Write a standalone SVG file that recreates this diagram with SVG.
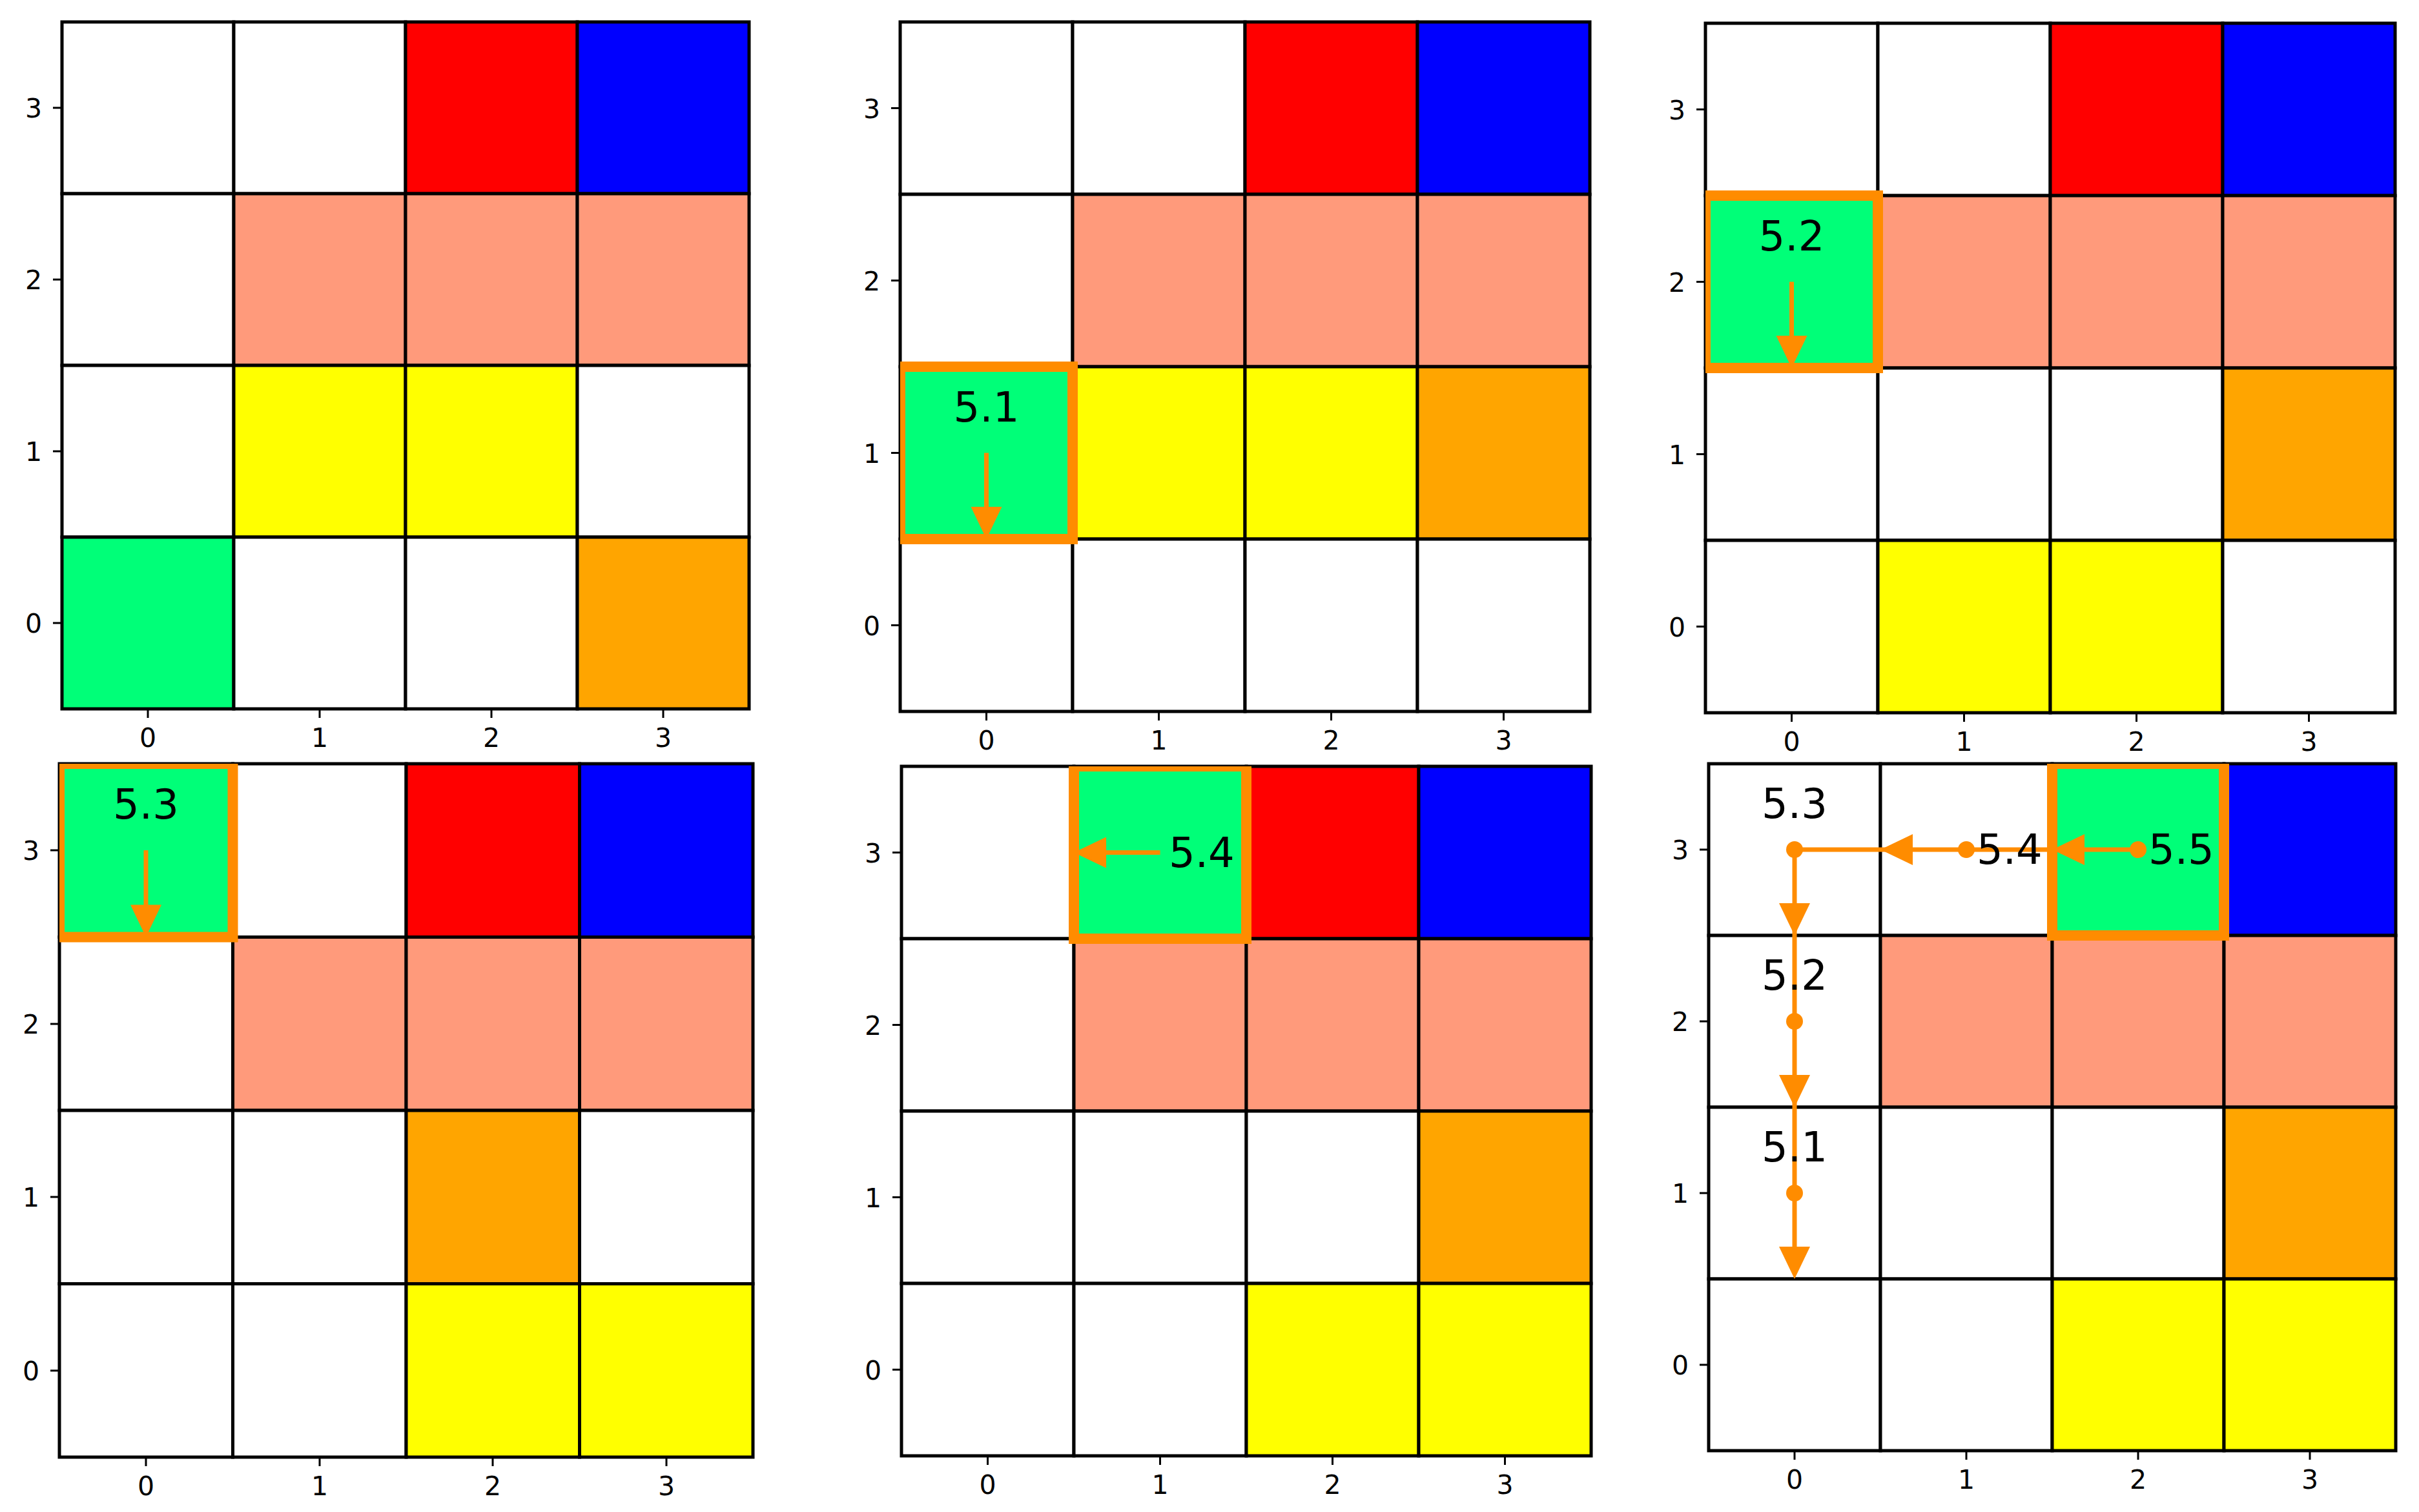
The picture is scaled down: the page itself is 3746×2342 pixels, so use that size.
<svg xmlns="http://www.w3.org/2000/svg" width="3746" height="2342" viewBox="0 0 3746 2342">
<style>
.c{stroke:#000;stroke-width:5}
.w{fill:#fff}.r{fill:#f00}.b{fill:#00f}.s{fill:#ff9a7b}.y{fill:#ff0}.o{fill:#ffa500}.g{fill:#00ff78}
.hl{fill:none;stroke:#ff8c00;stroke-width:16}
.tk{stroke:#000;stroke-width:3}
.tl{font-family:"DejaVu Sans",sans-serif;font-size:41px;fill:#000}
.lb{font-family:"DejaVu Sans",sans-serif;font-size:64px;fill:#000}
.ar{stroke:#ff8c00;stroke-width:7;fill:none}
.ah{fill:#ff8c00}
</style>
<defs>
<clipPath id="c266" clipPathUnits="userSpaceOnUse"><rect x="0" y="0" width="1064" height="1064"/></clipPath>
<clipPath id="c267" clipPathUnits="userSpaceOnUse"><rect x="0" y="0" width="1068" height="1068"/></clipPath>
<clipPath id="c268" clipPathUnits="userSpaceOnUse"><rect x="0" y="0" width="1074" height="1074"/></clipPath>
</defs>
<rect width="3746" height="2342" fill="#fff"/>

<!-- Panel 1 -->
<g id="panel1" transform="translate(96,34)">
<rect class="c w" x="0" y="0" width="266" height="266"/><rect class="c w" x="266" y="0" width="266" height="266"/><rect class="c r" x="532" y="0" width="266" height="266"/><rect class="c b" x="798" y="0" width="266" height="266"/>
<rect class="c w" x="0" y="266" width="266" height="266"/><rect class="c s" x="266" y="266" width="266" height="266"/><rect class="c s" x="532" y="266" width="266" height="266"/><rect class="c s" x="798" y="266" width="266" height="266"/>
<rect class="c w" x="0" y="532" width="266" height="266"/><rect class="c y" x="266" y="532" width="266" height="266"/><rect class="c y" x="532" y="532" width="266" height="266"/><rect class="c w" x="798" y="532" width="266" height="266"/>
<rect class="c g" x="0" y="798" width="266" height="266"/><rect class="c w" x="266" y="798" width="266" height="266"/><rect class="c w" x="532" y="798" width="266" height="266"/><rect class="c o" x="798" y="798" width="266" height="266"/>
<path class="tk" d="M-14 133H0M-14 399H0M-14 665H0M-14 931H0M133 1064V1078M399 1064V1078M665 1064V1078M931 1064V1078"/>
<text class="tl" text-anchor="end" x="-31" y="148">3</text><text class="tl" text-anchor="end" x="-31" y="414">2</text><text class="tl" text-anchor="end" x="-31" y="680">1</text><text class="tl" text-anchor="end" x="-31" y="946">0</text>
<text class="tl" text-anchor="middle" x="133" y="1123">0</text><text class="tl" text-anchor="middle" x="399" y="1123">1</text><text class="tl" text-anchor="middle" x="665" y="1123">2</text><text class="tl" text-anchor="middle" x="931" y="1123">3</text>
</g>

<!-- Panel 2 -->
<g id="panel2" transform="translate(1394,34)">
<rect class="c w" x="0" y="0" width="267" height="267"/><rect class="c w" x="267" y="0" width="267" height="267"/><rect class="c r" x="534" y="0" width="267" height="267"/><rect class="c b" x="801" y="0" width="267" height="267"/>
<rect class="c w" x="0" y="267" width="267" height="267"/><rect class="c s" x="267" y="267" width="267" height="267"/><rect class="c s" x="534" y="267" width="267" height="267"/><rect class="c s" x="801" y="267" width="267" height="267"/>
<rect class="c g" x="0" y="534" width="267" height="267"/><rect class="c y" x="267" y="534" width="267" height="267"/><rect class="c y" x="534" y="534" width="267" height="267"/><rect class="c o" x="801" y="534" width="267" height="267"/>
<rect class="c w" x="0" y="801" width="267" height="267"/><rect class="c w" x="267" y="801" width="267" height="267"/><rect class="c w" x="534" y="801" width="267" height="267"/><rect class="c w" x="801" y="801" width="267" height="267"/>
<rect class="hl" x="0" y="534" width="267" height="267" clip-path="url(#c267)"/>
<path class="ar" d="M133.5 667.5V752"/><path class="ah" d="M133.5 801L109.5 751H157.5Z"/>
<text class="lb" text-anchor="middle" x="133.5" y="618.5">5.1</text>
<path class="tk" d="M-14 133.5H0M-14 400.5H0M-14 667.5H0M-14 934.5H0M133.5 1068V1082M400.5 1068V1082M667.5 1068V1082M934.5 1068V1082"/>
<text class="tl" text-anchor="end" x="-31" y="148.5">3</text><text class="tl" text-anchor="end" x="-31" y="415.5">2</text><text class="tl" text-anchor="end" x="-31" y="682.5">1</text><text class="tl" text-anchor="end" x="-31" y="949.5">0</text>
<text class="tl" text-anchor="middle" x="133.5" y="1127">0</text><text class="tl" text-anchor="middle" x="400.5" y="1127">1</text><text class="tl" text-anchor="middle" x="667.5" y="1127">2</text><text class="tl" text-anchor="middle" x="934.5" y="1127">3</text>
</g>

<!-- Panel 3 -->
<g id="panel3" transform="translate(2641,36)">
<rect class="c w" x="0" y="0" width="267" height="267"/><rect class="c w" x="267" y="0" width="267" height="267"/><rect class="c r" x="534" y="0" width="267" height="267"/><rect class="c b" x="801" y="0" width="267" height="267"/>
<rect class="c g" x="0" y="267" width="267" height="267"/><rect class="c s" x="267" y="267" width="267" height="267"/><rect class="c s" x="534" y="267" width="267" height="267"/><rect class="c s" x="801" y="267" width="267" height="267"/>
<rect class="c w" x="0" y="534" width="267" height="267"/><rect class="c w" x="267" y="534" width="267" height="267"/><rect class="c w" x="534" y="534" width="267" height="267"/><rect class="c o" x="801" y="534" width="267" height="267"/>
<rect class="c w" x="0" y="801" width="267" height="267"/><rect class="c y" x="267" y="801" width="267" height="267"/><rect class="c y" x="534" y="801" width="267" height="267"/><rect class="c w" x="801" y="801" width="267" height="267"/>
<rect class="hl" x="0" y="267" width="267" height="267" clip-path="url(#c267)"/>
<path class="ar" d="M133.5 400.5V485"/><path class="ah" d="M133.5 534L109.5 484H157.5Z"/>
<text class="lb" text-anchor="middle" x="133.5" y="351.5">5.2</text>
<path class="tk" d="M-14 133.5H0M-14 400.5H0M-14 667.5H0M-14 934.5H0M133.5 1068V1082M400.5 1068V1082M667.5 1068V1082M934.5 1068V1082"/>
<text class="tl" text-anchor="end" x="-31" y="148.5">3</text><text class="tl" text-anchor="end" x="-31" y="415.5">2</text><text class="tl" text-anchor="end" x="-31" y="682.5">1</text><text class="tl" text-anchor="end" x="-31" y="949.5">0</text>
<text class="tl" text-anchor="middle" x="133.5" y="1127">0</text><text class="tl" text-anchor="middle" x="400.5" y="1127">1</text><text class="tl" text-anchor="middle" x="667.5" y="1127">2</text><text class="tl" text-anchor="middle" x="934.5" y="1127">3</text>
</g>

<!-- Panel 4 -->
<g id="panel4" transform="translate(92,1183)">
<rect class="c g" x="0" y="0" width="268.5" height="268.5"/><rect class="c w" x="268.5" y="0" width="268.5" height="268.5"/><rect class="c r" x="537" y="0" width="268.5" height="268.5"/><rect class="c b" x="805.5" y="0" width="268.5" height="268.5"/>
<rect class="c w" x="0" y="268.5" width="268.5" height="268.5"/><rect class="c s" x="268.5" y="268.5" width="268.5" height="268.5"/><rect class="c s" x="537" y="268.5" width="268.5" height="268.5"/><rect class="c s" x="805.5" y="268.5" width="268.5" height="268.5"/>
<rect class="c w" x="0" y="537" width="268.5" height="268.5"/><rect class="c w" x="268.5" y="537" width="268.5" height="268.5"/><rect class="c o" x="537" y="537" width="268.5" height="268.5"/><rect class="c w" x="805.5" y="537" width="268.5" height="268.5"/>
<rect class="c w" x="0" y="805.5" width="268.5" height="268.5"/><rect class="c w" x="268.5" y="805.5" width="268.5" height="268.5"/><rect class="c y" x="537" y="805.5" width="268.5" height="268.5"/><rect class="c y" x="805.5" y="805.5" width="268.5" height="268.5"/>
<rect class="hl" x="0" y="0" width="268.5" height="268.5" clip-path="url(#c268)"/>
<path class="ar" d="M134 134V219"/><path class="ah" d="M134 268.5L110 218.5H158Z"/>
<text class="lb" text-anchor="middle" x="134" y="85">5.3</text>
<path class="tk" d="M-14 134H0M-14 403H0M-14 671H0M-14 940H0M134 1074V1088M403 1074V1088M671 1074V1088M940 1074V1088"/>
<text class="tl" text-anchor="end" x="-31" y="149">3</text><text class="tl" text-anchor="end" x="-31" y="418">2</text><text class="tl" text-anchor="end" x="-31" y="686">1</text><text class="tl" text-anchor="end" x="-31" y="955">0</text>
<text class="tl" text-anchor="middle" x="134" y="1133">0</text><text class="tl" text-anchor="middle" x="403" y="1133">1</text><text class="tl" text-anchor="middle" x="671" y="1133">2</text><text class="tl" text-anchor="middle" x="940" y="1133">3</text>
</g>

<!-- Panel 5 -->
<g id="panel5" transform="translate(1396,1187)">
<rect class="c w" x="0" y="0" width="267" height="267"/><rect class="c g" x="267" y="0" width="267" height="267"/><rect class="c r" x="534" y="0" width="267" height="267"/><rect class="c b" x="801" y="0" width="267" height="267"/>
<rect class="c w" x="0" y="267" width="267" height="267"/><rect class="c s" x="267" y="267" width="267" height="267"/><rect class="c s" x="534" y="267" width="267" height="267"/><rect class="c s" x="801" y="267" width="267" height="267"/>
<rect class="c w" x="0" y="534" width="267" height="267"/><rect class="c w" x="267" y="534" width="267" height="267"/><rect class="c w" x="534" y="534" width="267" height="267"/><rect class="c o" x="801" y="534" width="267" height="267"/>
<rect class="c w" x="0" y="801" width="267" height="267"/><rect class="c w" x="267" y="801" width="267" height="267"/><rect class="c y" x="534" y="801" width="267" height="267"/><rect class="c y" x="801" y="801" width="267" height="267"/>
<rect class="hl" x="267" y="0" width="267" height="267" clip-path="url(#c267)"/>
<path class="ar" d="M400.5 133.5H316"/><path class="ah" d="M267 133.5L317 109.5V157.5Z"/>
<text class="lb" x="414" y="156">5.4</text>
<path class="tk" d="M-14 133.5H0M-14 400.5H0M-14 667.5H0M-14 934.5H0M133.5 1068V1082M400.5 1068V1082M667.5 1068V1082M934.5 1068V1082"/>
<text class="tl" text-anchor="end" x="-31" y="148.5">3</text><text class="tl" text-anchor="end" x="-31" y="415.5">2</text><text class="tl" text-anchor="end" x="-31" y="682.5">1</text><text class="tl" text-anchor="end" x="-31" y="949.5">0</text>
<text class="tl" text-anchor="middle" x="133.5" y="1127">0</text><text class="tl" text-anchor="middle" x="400.5" y="1127">1</text><text class="tl" text-anchor="middle" x="667.5" y="1127">2</text><text class="tl" text-anchor="middle" x="934.5" y="1127">3</text>
</g>

<!-- Panel 6 -->
<g id="panel6" transform="translate(2646,1183)">
<rect class="c w" x="0" y="0" width="266" height="266"/><rect class="c w" x="266" y="0" width="266" height="266"/><rect class="c g" x="532" y="0" width="266" height="266"/><rect class="c b" x="798" y="0" width="266" height="266"/>
<rect class="c w" x="0" y="266" width="266" height="266"/><rect class="c s" x="266" y="266" width="266" height="266"/><rect class="c s" x="532" y="266" width="266" height="266"/><rect class="c s" x="798" y="266" width="266" height="266"/>
<rect class="c w" x="0" y="532" width="266" height="266"/><rect class="c w" x="266" y="532" width="266" height="266"/><rect class="c w" x="532" y="532" width="266" height="266"/><rect class="c o" x="798" y="532" width="266" height="266"/>
<rect class="c w" x="0" y="798" width="266" height="266"/><rect class="c w" x="266" y="798" width="266" height="266"/><rect class="c y" x="532" y="798" width="266" height="266"/><rect class="c y" x="798" y="798" width="266" height="266"/>
<rect class="hl" x="532" y="0" width="266" height="266" clip-path="url(#c266)"/>
<g id="connectors">
<path class="ar" d="M665 133H133V750"/>
<path class="ah" d="M532 133L582 109V157Z"/>
<path class="ah" d="M266 133L316 109V157Z"/>
<path class="ah" d="M133 266L109 216H157Z"/>
<path class="ah" d="M133 532L109 482H157Z"/>
<path class="ah" d="M133 798L109 748H157Z"/>
<circle class="ah" cx="665" cy="133" r="13"/>
<circle class="ah" cx="399" cy="133" r="13"/>
<circle class="ah" cx="133" cy="133" r="13"/>
<circle class="ah" cx="133" cy="399" r="13"/>
<circle class="ah" cx="133" cy="665" r="13"/>
</g>
<text class="lb" x="681" y="155">5.5</text>
<text class="lb" x="415" y="155">5.4</text>
<text class="lb" text-anchor="middle" x="133" y="84">5.3</text>
<text class="lb" text-anchor="middle" x="133" y="350">5.2</text>
<text class="lb" text-anchor="middle" x="133" y="616">5.1</text>
<path class="tk" d="M-14 133H0M-14 399H0M-14 665H0M-14 931H0M133 1064V1078M399 1064V1078M665 1064V1078M931 1064V1078"/>
<text class="tl" text-anchor="end" x="-31" y="148">3</text><text class="tl" text-anchor="end" x="-31" y="414">2</text><text class="tl" text-anchor="end" x="-31" y="680">1</text><text class="tl" text-anchor="end" x="-31" y="946">0</text>
<text class="tl" text-anchor="middle" x="133" y="1123">0</text><text class="tl" text-anchor="middle" x="399" y="1123">1</text><text class="tl" text-anchor="middle" x="665" y="1123">2</text><text class="tl" text-anchor="middle" x="931" y="1123">3</text>
</g>
</svg>
